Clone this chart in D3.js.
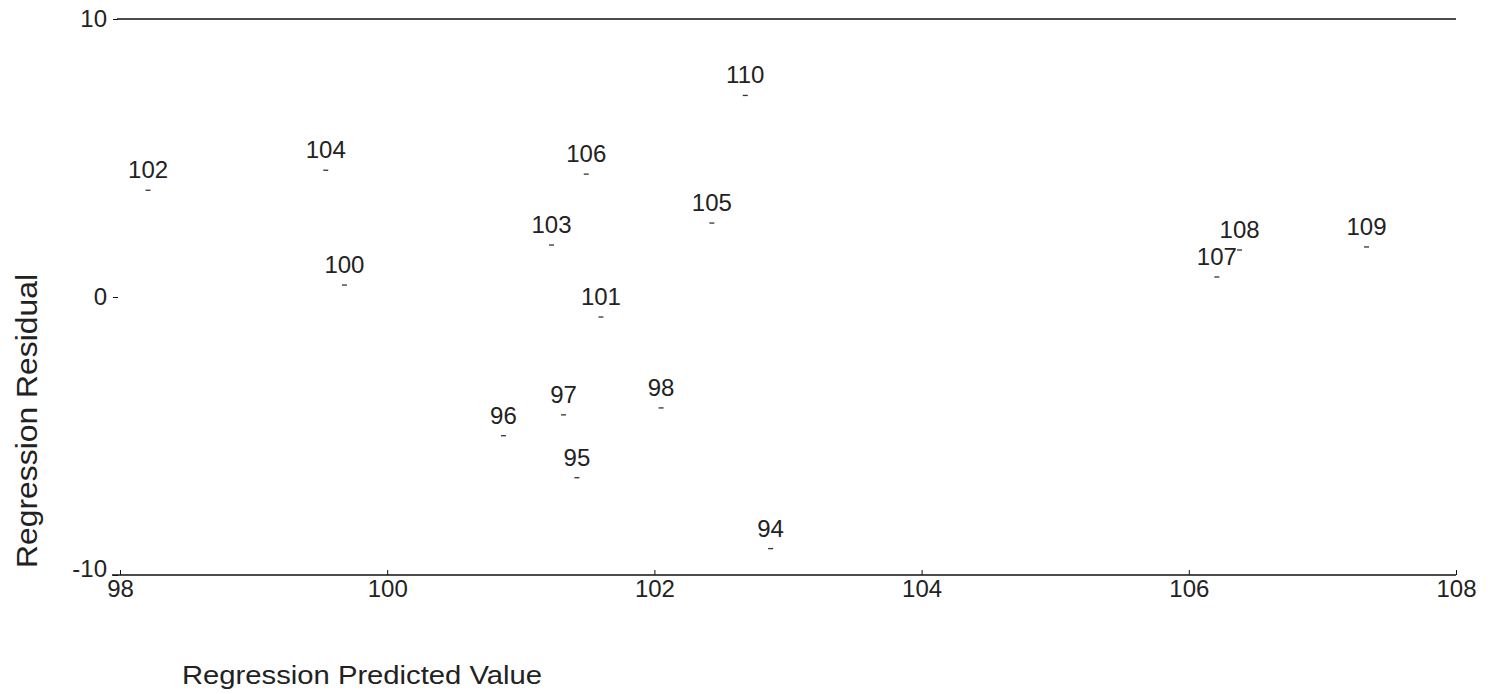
<!DOCTYPE html>
<html lang="en">
<head>
<meta charset="UTF-8">
<title>Regression Residual vs Predicted Value</title>
<script src="https://d3js.org/d3.v7.min.js"></script>
<style>
  body { margin: 0; background: #fff; }
  svg { display: block; font-family: "Liberation Sans", Arial, sans-serif; }
  .tick text { font-size: 24px; fill: #222; }
  .pt-label { font-size: 24px; fill: #222; }
  .axis-title { fill: #222; }
</style>
</head>
<body>
<svg id="chart" width="1497" height="694"></svg>
<script>
// case labels with predicted value (x) and residual (y)
const labels    = ["110", "104", "106", "102", "105", "103", "108", "109", "107", "100", "101", "97", "98", "96", "95", "94"];
const predicted = [102.68, 99.54, 101.49, 98.21, 102.43, 101.23, 106.38, 107.33, 106.21, 99.68, 101.60, 101.32, 102.05, 100.87, 101.42, 102.87];
const residual  = [7.25, 4.56, 4.42, 3.84, 2.66, 1.87, 1.69, 1.80, 0.72, 0.43, -0.72, -4.24, -3.99, -4.99, -6.50, -9.05];
const xTicks = [98, 100, 102, 104, 106, 108];
const yTicks = [-10, 0, 10];

const data = labels.map((l, i) => ({ label: l, x: predicted[i], y: residual[i] }));

const svg = d3.select("#chart");
const x = d3.scaleLinear().domain([98, 108]).range([120, 1456]);
const y = d3.scaleLinear().domain([-10, 10]).range([575, 19]);

// top frame line at 10
svg.append("line")
  .attr("x1", 117).attr("x2", 1456)
  .attr("y1", y(10)).attr("y2", y(10))
  .attr("stroke", "#111").attr("stroke-width", 1.5);

// x axis (bottom line)
const xa = svg.append("g")
  .attr("transform", `translate(0,${y(-10)})`)
  .call(d3.axisBottom(x).tickValues(xTicks).tickSizeInner(-5).tickSizeOuter(0).tickPadding(5));
xa.select(".domain").attr("d", `M112,0H${x(108)}`).attr("stroke", "#111").attr("stroke-width", 1.5);
xa.selectAll(".tick line").attr("stroke", "#111");

// y axis, ticks only
const ya = svg.append("g")
  .attr("transform", "translate(118,0)")
  .call(d3.axisLeft(y).tickValues(yTicks).tickSize(5).tickPadding(6).tickFormat(d => String(d)));
ya.select(".domain").remove();
ya.selectAll(".tick line").attr("stroke", "#111");
ya.selectAll(".tick text").filter(d => d === -10).attr("y", -6);

// point markers (short dashes)
svg.append("g").selectAll("line")
  .data(data).join("line")
  .attr("x1", d => x(d.x) - 2.5).attr("x2", d => x(d.x) + 2.5)
  .attr("y1", d => y(d.y)).attr("y2", d => y(d.y))
  .attr("stroke", "#333").attr("stroke-width", 1.3);

// case labels above markers
svg.append("g").selectAll("text")
  .data(data).join("text")
  .attr("class", "pt-label")
  .attr("x", d => x(d.x))
  .attr("y", d => y(d.y) - 12)
  .attr("text-anchor", "middle")
  .text(d => d.label);

// axis titles
svg.append("text")
  .attr("class", "axis-title")
  .attr("transform", "translate(37,421) rotate(-90)")
  .attr("text-anchor", "middle")
  .style("font-size", "30px")
  .attr("textLength", 294)
  .attr("lengthAdjust", "spacingAndGlyphs")
  .text("Regression Residual");

svg.append("text")
  .attr("class", "axis-title")
  .attr("x", 182).attr("y", 684)
  .style("font-size", "25px")
  .attr("textLength", 360)
  .attr("lengthAdjust", "spacingAndGlyphs")
  .text("Regression Predicted Value");
</script>
</body>
</html>
